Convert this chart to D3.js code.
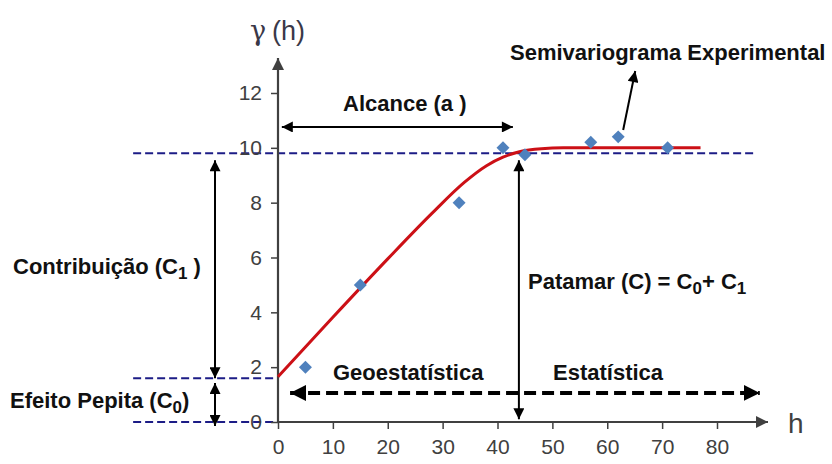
<!DOCTYPE html>
<html>
<head>
<meta charset="utf-8">
<script src="https://cdn.jsdelivr.net/npm/d3@7"></script>
<style>
  html, body { margin: 0; padding: 0; background: #ffffff; }
  svg { display: block; font-family: "Liberation Sans", Arial, sans-serif; }
</style>
</head>
<body>
<svg id="chart" width="832" height="464"></svg>
<script>
// Experimental semivariogram points (lag h, semivariance)
const lagH   = [5, 15, 33, 41, 45, 57, 62, 71];
const gammaH = [2.0, 5.0, 8.0, 10.0, 9.75, 10.2, 10.4, 10.0];

// Fitted model curve
const modelH = [0, 10, 20, 28, 34, 38, 41, 44, 48, 52, 60, 70, 77];
const modelG = [1.65, 3.82, 5.95, 7.6, 8.75, 9.35, 9.66, 9.86, 9.97, 10.0, 10.0, 10.0, 10.0];

// Model parameters shown by the guide lines
const nugget = 1.6;      // C0
const sill = 9.8;        // C
const rangeA = 42.8;     // a

// Axis ticks
const xTicks = [0, 10, 20, 30, 40, 50, 60, 70, 80];
const yTicks = [0, 2, 4, 6, 8, 10, 12];

const svg = d3.select("#chart");

const x = d3.scaleLinear().domain([0, 80]).range([278, 717]);
const y = d3.scaleLinear().domain([0, 12]).range([422, 93]);

const axisColor = "#404040";
const guideBlue = "#1c1c86";

// Arrow head markers
const defs = svg.append("defs");
function marker(id, color, w, h) {
  defs.append("marker")
    .attr("id", id)
    .attr("viewBox", "0 0 10 10")
    .attr("refX", 10).attr("refY", 5)
    .attr("markerUnits", "userSpaceOnUse")
    .attr("markerWidth", w).attr("markerHeight", h)
    .attr("orient", "auto-start-reverse")
    .append("path")
    .attr("d", "M0,0 L10,5 L0,10 Z")
    .attr("fill", color);
}
marker("headBlack", "#000", 13, 11);
marker("headAxis", axisColor, 13, 12);
marker("headBig", "#000", 16, 16);

// Dashed guide lines: sill, nugget and zero
const guides = [
  { x1: -26.4, x2: 86.6, g: sill },
  { x1: -26.4, x2: 0, g: nugget },
  { x1: -26.4, x2: 0, g: 0 }
];
svg.append("g").selectAll("line").data(guides).join("line")
  .attr("x1", d => x(d.x1)).attr("x2", d => x(d.x2))
  .attr("y1", d => y(d.g)).attr("y2", d => y(d.g))
  .attr("stroke", guideBlue).attr("stroke-width", 2)
  .attr("stroke-dasharray", "8,4");

// Axes
const xAxis = d3.axisBottom(x).tickValues(xTicks).tickSize(7).tickPadding(10);
const gx = svg.append("g").attr("transform", `translate(0,${y(0)})`).call(xAxis);
gx.select(".domain").remove();
gx.selectAll(".tick line").attr("stroke", axisColor).attr("stroke-width", 1.5);
gx.selectAll(".tick text").attr("font-size", 21).attr("fill", axisColor)
  .attr("font-family", "Liberation Sans, Arial, sans-serif");

const yAxis = d3.axisLeft(y).tickValues(yTicks).tickSize(7).tickPadding(9);
const gy = svg.append("g").attr("transform", `translate(${x(0)},0)`).call(yAxis);
gy.select(".domain").remove();
gy.selectAll(".tick line").attr("stroke", axisColor).attr("stroke-width", 1.5);
gy.selectAll(".tick text").attr("font-size", 21).attr("fill", axisColor)
  .attr("font-family", "Liberation Sans, Arial, sans-serif");

// Axis lines with arrow tips
svg.append("line")
  .attr("x1", x(0)).attr("x2", x(0))
  .attr("y1", y(0)).attr("y2", 58)
  .attr("stroke", axisColor).attr("stroke-width", 2.2)
  .attr("marker-end", "url(#headAxis)");
svg.append("line")
  .attr("x1", x(0)).attr("x2", 768)
  .attr("y1", y(0)).attr("y2", y(0))
  .attr("stroke", axisColor).attr("stroke-width", 2.2)
  .attr("marker-end", "url(#headAxis)");

// Axis titles
svg.append("text").attr("x", 250).attr("y", 40)
  .attr("font-size", 27).attr("fill", "#3a3848")
  .attr("font-family", "DejaVu Serif, serif")
  .text("γ");
svg.append("text").attr("x", 272).attr("y", 40)
  .attr("font-size", 27).attr("fill", "#3a3848")
  .text("(h)");
svg.append("text").attr("x", 788).attr("y", 433)
  .attr("font-size", 28).attr("fill", axisColor)
  .text("h");

// Fitted model curve
const line = d3.line()
  .x((d, i) => x(modelH[i]))
  .y(d => y(d))
  .curve(d3.curveMonotoneX);
svg.append("path").datum(modelG)
  .attr("d", line)
  .attr("fill", "none")
  .attr("stroke", "#cc1016")
  .attr("stroke-width", 3);

// Experimental points as diamonds
const diamond = d3.symbol().type(d3.symbolSquare).size(84);
svg.append("g").selectAll("path").data(lagH).join("path")
  .attr("d", diamond)
  .attr("transform", (d, i) => `translate(${x(d)},${y(gammaH[i])}) rotate(45)`)
  .attr("fill", "#4f81bd");

// Annotation arrows
function arrow(x1, y1, x2, y2, opts = {}) {
  const l = svg.append("line")
    .attr("x1", x1).attr("y1", y1).attr("x2", x2).attr("y2", y2)
    .attr("stroke", "#000").attr("stroke-width", opts.w || 2)
    .attr("marker-end", `url(#${opts.head || "headBlack"})`);
  if (opts.both) l.attr("marker-start", `url(#${opts.head || "headBlack"})`);
  if (opts.dash) l.attr("stroke-dasharray", opts.dash);
  return l;
}

// Range (Alcance)
arrow(x(0.7), y(10.76), x(rangeA), y(10.76), { both: true });
// Sill (Patamar)
arrow(x(43.9), y(0.1), x(43.9), y(9.55), { both: true });
// Contribution C1
arrow(215, y(nugget), 215, y(9.55), { both: true });
// Nugget C0
arrow(215, y(1.42), 215, y(-0.15), { both: true });
// Geostatistics / Statistics span
arrow(x(2.2), y(1.06), x(87.8), y(1.06), { both: true, head: "headBig", w: 4, dash: "12,6" });
// Pointer to experimental points
arrow(x(62.9), y(10.65), x(65.1), y(12.8), {});

// Annotation labels; subscripts are objects { sub: "..." }
function label(tx, ty, parts) {
  const t = svg.append("text").attr("x", tx).attr("y", ty)
    .attr("font-size", 22).attr("font-weight", "bold").attr("fill", "#111");
  let shift = 0;
  parts.forEach(p => {
    if (typeof p === "string") {
      t.append("tspan").attr("dy", -shift).text(p);
      shift = 0;
    } else {
      t.append("tspan").attr("font-size", 17).attr("dy", 5).text(p.sub);
      shift = 5;
    }
  });
  return t;
}

label(343, 111, ["Alcance (a )"]);
label(510, 60, ["Semivariograma Experimental"]);
label(13, 274, ["Contribuição (C", { sub: "1" }, " )"]);
label(10, 408, ["Efeito Pepita (C", { sub: "0" }, ")"]);
label(528, 289, ["Patamar (C) = C", { sub: "0" }, "+ C", { sub: "1" }]);
label(333, 380, ["Geoestatística"]);
label(553, 380, ["Estatística"]);
</script>
</body>
</html>
